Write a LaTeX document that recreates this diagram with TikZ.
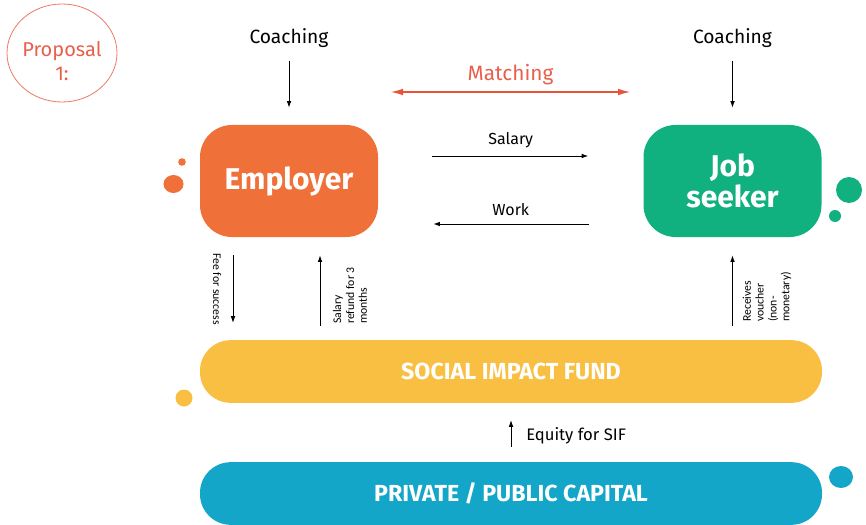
\documentclass[tikz,border=0pt]{standalone}
\usepackage{fontspec}
\setmainfont{Fira Sans}
\newfontfamily\labelfont{Carlito}
\usetikzlibrary{arrows.meta,shapes.geometric}

\definecolor{emporange}{RGB}{239,112,56}
\definecolor{jobgreen}{RGB}{17,176,127}
\definecolor{sifyellow}{RGB}{249,191,66}
\definecolor{capblue}{RGB}{20,166,200}
\definecolor{propred}{RGB}{232,96,76}
\definecolor{matchred}{RGB}{232,83,58}

\tikzset{
  bigbox/.style={rounded corners=24pt,minimum width=133.5pt,minimum height=84pt,
    text=white,align=center,font=\fontsize{22.5}{23.5}\selectfont\bfseries},
  barbox/.style={rounded corners=23pt,minimum width=466.5pt,minimum height=47pt,
    text=white,font=\fontsize{17.4}{19}\selectfont\bfseries},
  flow/.style={line width=0.7pt,-{Latex[length=5pt,width=3.5pt]}},
  flowtext/.style={inner sep=0.75pt,font=\fontsize{12}{14}\selectfont},
  sidetext/.style={inner sep=0.75pt,align=left,font=\labelfont\fontsize{8.8}{9.6}\selectfont}
}

\begin{document}
\begin{tikzpicture}[x=0.75pt,y=0.75pt,yscale=-1,xscale=1]
\path[use as bounding box] (0,0) rectangle (866,524);

%Shape: Ellipse [id:prop]
\node (prop) [ellipse,draw=propred!85,line width=0.6pt,minimum width=82.5pt,minimum height=73.5pt] at (62,53) {};
% Text Node
\node (proptxt) [inner sep=0.75pt,align=center,text=propred,font=\fontsize{15}{18}\selectfont] at (62,61) {Proposal\\1:};

%Shape: Rounded Rect [id:emp]
\node (emp) [bigbox,fill=emporange] at (289,181) {Employer};
%Shape: Rounded Rect [id:job]
\node (job) [bigbox,fill=jobgreen] at (732.5,181) {Job\\seeker};
%Shape: Rounded Rect [id:sif]
\node (sif) [barbox,fill=sifyellow] at (511,371.5) {SOCIAL IMPACT FUND};
%Shape: Rounded Rect [id:cap]
\node (cap) [barbox,fill=capblue] at (511,493.5) {PRIVATE / PUBLIC CAPITAL};

%Shape: Circles
\fill [emporange] (182,162) circle [radius=3.8];
\fill [emporange] (173.5,184) circle [x radius=10,y radius=9];
\fill [jobgreen] (849,190) circle [radius=13];
\fill [jobgreen] (835,216) circle [radius=6];
\fill [sifyellow] (184,398) circle [radius=8.5];
\fill [capblue] (841,477) circle [x radius=12,y radius=11];

% Text Node
\node (coachL) [inner sep=0.75pt,font=\fontsize{14.4}{16}\selectfont] at (289,38) {Coaching};
% Text Node
\node (coachR) [inner sep=0.75pt,font=\fontsize{14.4}{16}\selectfont] at (732.5,38) {Coaching};

%Straight Lines: coaching
\draw [flow,shorten <=9pt,shorten >=12.75pt] (coachL) -- (emp);
\draw [flow,shorten <=9pt,shorten >=12.75pt] (coachR) -- (job);

%Straight Lines: matching
\coordinate (mL) at (391,92);
\coordinate (mR) at (630,92);
\draw [matchred,line width=0.8pt,{Latex[length=9pt,width=5pt]}-{Latex[length=9pt,width=5pt]}] (mL) -- (mR)
  node [midway,above=4pt,inner sep=0.75pt,text=propred,font=\fontsize{15.6}{18}\selectfont] (matchtxt) {Matching};

%Straight Lines: salary and work
\draw [flow,shorten <=40.5pt,shorten >=41.25pt] ([yshift=-18.75pt]emp.east) -- ([yshift=-18.75pt]job.west)
  node [midway,above=5pt,flowtext] (salarytxt) {Salary};
\draw [flow,shorten <=40.5pt,shorten >=41.25pt] ([yshift=32.25pt]job.west) -- ([yshift=32.25pt]emp.east)
  node [midway,above=5pt,flowtext] (worktxt) {Work};

%Straight Lines: fund links
\draw [flow,shorten <=13.5pt,shorten >=12.75pt] ([xshift=-42pt]emp.south) -- ([xshift=-42pt]emp.south |- sif.north);
\draw [flow,shorten <=10.5pt,shorten >=13.5pt] ([xshift=23.25pt]emp.south |- sif.north) -- ([xshift=23.25pt]emp.south);
\draw [flow,shorten <=10.5pt,shorten >=13.5pt] (job.south |- sif.north) -- (job.south);
\draw [flow,shorten <=11.25pt,shorten >=12.75pt] (cap.north) -- (sif.south);

% Text Node
\node (feetxt) [sidetext,rotate=-90] at (217,289) {Fee for success};
% Text Node
\node (refundtxt) [sidetext,rotate=90] at (350,295.5) {Salary\\refund for 3\\months};
% Text Node
\node (vouchertxt) [sidetext,rotate=90] at (767,297) {Receives\\voucher\\(non-\\monetary)};
% Text Node
\node (equitytxt) [inner sep=0.75pt,anchor=west,font=\fontsize{12.5}{15}\selectfont] at (525,436) {Equity for SIF};

\end{tikzpicture}
\end{document}
